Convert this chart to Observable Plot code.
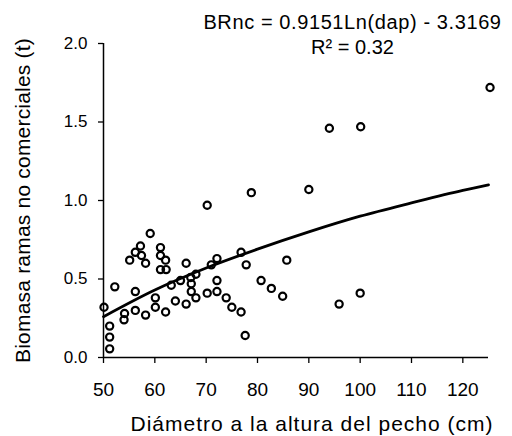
<!DOCTYPE html>
<html>
<head>
<meta charset="utf-8">
<script src="https://cdn.jsdelivr.net/npm/d3@7"></script>
<script src="https://cdn.jsdelivr.net/npm/@observablehq/plot@0.6"></script>
<style>
  html, body { margin: 0; padding: 0; background: #fff; }
  svg { display: block; }
</style>
</head>
<body>
<div id="chart"></div>
<script>
// Observed points: diameter at breast height (cm) and non-commercial branch biomass (t)
const dap = [50.1,51.2,51.2,51.2,52.2,54.0,54.1,55.1,56.2,57.2,57.4,58.2,59.1,56.2,56.2,58.2,60.1,60.1,61.1,61.1,62.1,61.1,62.2,62.1,63.2,64.0,65.0,66.1,66.1,67.0,68.0,67.1,67.1,68.0,70.2,70.2,71.0,72.1,72.1,72.1,73.9,75.0,76.8,76.8,77.8,77.6,78.8,80.7,82.7,84.9,85.7,90.0,94.0,100.1,95.9,100.0,125.3];
const brnc = [0.32,0.20,0.13,0.055,0.45,0.24,0.28,0.62,0.67,0.71,0.65,0.60,0.79,0.42,0.30,0.27,0.38,0.32,0.70,0.65,0.62,0.56,0.56,0.29,0.46,0.36,0.49,0.34,0.60,0.51,0.53,0.47,0.42,0.38,0.41,0.97,0.59,0.63,0.49,0.42,0.38,0.32,0.29,0.67,0.59,0.14,1.05,0.49,0.44,0.39,0.62,1.07,1.46,1.47,0.34,0.41,1.72];

// Fitted curve, values
const fitDap = [50, 60, 70, 80, 90, 100, 110, 120, 125];
const fitBrnc = [0.26, 0.43, 0.57, 0.69, 0.80, 0.90, 0.985, 1.065, 1.10];

// Axis ticks
const xTicks = [50, 60, 70, 80, 90, 100, 110, 120];
const yTicks = [0, 0.5, 1.0, 1.5, 2.0];

const xDomain = [50, 125];
const yDomain = [0, 2];

const equation = "BRnc = 0.9151Ln(dap) - 3.3169";
const r2 = "R² = 0.32";
const xTitle = "Diámetro a la altura del pecho (cm)";
const yTitle = "Biomasa ramas no comerciales (t)";

const points = dap.map((d, i) => ({dap: d, brnc: brnc[i]}));
const fit = fitDap.map((d, i) => ({dap: d, brnc: fitBrnc[i]}));

const font = "'Liberation Sans', Arial, Helvetica, sans-serif";

const chart = Plot.plot({
  width: 512,
  height: 436,
  marginLeft: 103,
  marginRight: 24,
  marginTop: 43,
  marginBottom: 79,
  style: { fontFamily: font, background: "#fff", color: "#000", overflow: "visible" },
  x: { domain: xDomain },
  y: { domain: yDomain },
  marks: [
    Plot.axisX({
      ticks: xTicks, tickSize: 6, tickPadding: 18.5, label: null,
      fontSize: 19, strokeWidth: 1.3, fill: "#000", stroke: "#000",
      tickFormat: d3.format("d")
    }),
    Plot.axisY({
      ticks: yTicks, tickSize: 5, tickPadding: 11, label: null,
      fontSize: 17, strokeWidth: 1.3, fill: "#000", stroke: "#000",
      tickFormat: d3.format(".1f")
    }),
    Plot.ruleY([0], {stroke: "#000", strokeWidth: 1.5}),
    Plot.ruleX([50], {stroke: "#000", strokeWidth: 1.5}),
    Plot.line(fit, {x: "dap", y: "brnc", curve: "monotone-x", stroke: "#000", strokeWidth: 2.8}),
    Plot.dot(points, {x: "dap", y: "brnc", r: 3.6, stroke: "#000", strokeWidth: 2.2, fill: "none"}),
    Plot.text([equation], {
      frameAnchor: "top", text: d => d, dx: 56.5, dy: -21, textAnchor: "middle",
      fontSize: 20, lineAnchor: "middle", fill: "#000"
    }),
    Plot.text([r2], {
      frameAnchor: "top", text: d => d, dx: 56.5, dy: 4, textAnchor: "middle",
      fontSize: 20, lineAnchor: "middle", fill: "#000"
    }),
    Plot.text([xTitle], {
      frameAnchor: "bottom", text: d => d, dx: 16, dy: 67, textAnchor: "middle",
      fontSize: 21, lineAnchor: "middle", fill: "#000"
    }),
    Plot.text([yTitle], {
      frameAnchor: "left", text: d => d, dx: -80.7, rotate: -90, textAnchor: "middle",
      fontSize: 21, lineAnchor: "middle", fill: "#000"
    })
  ]
});

// Slight letter spacing, as in the reference typography
d3.select(chart).selectAll("text").each(function() {
  const t = this.textContent;
  if (t === equation) this.setAttribute("letter-spacing", "0.6");
  else if (t === xTitle) this.setAttribute("letter-spacing", "1");
  else if (t === yTitle) this.setAttribute("letter-spacing", "0.2");
});

document.getElementById("chart").appendChild(chart);
</script>
</body>
</html>
